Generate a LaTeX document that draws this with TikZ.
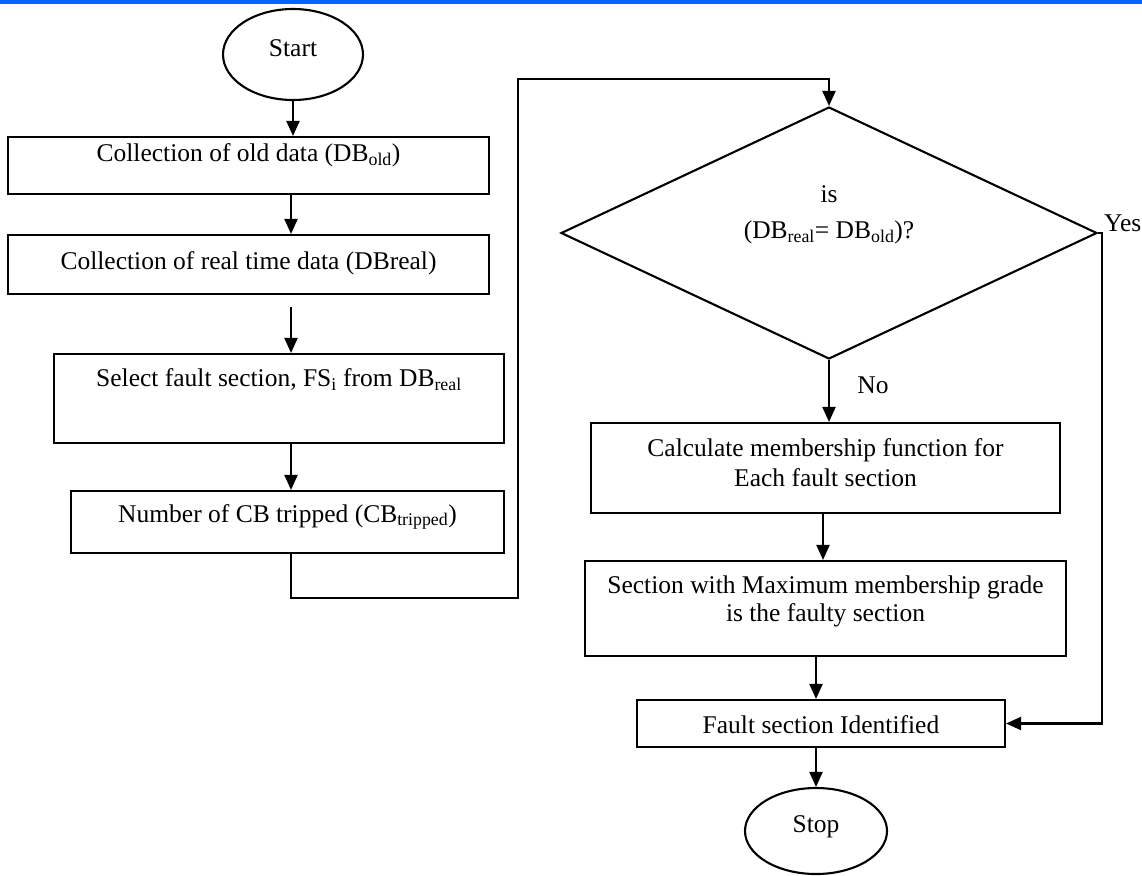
\documentclass[tikz,border=0pt]{standalone}
\usepackage{fontspec}
\setmainfont{Liberation Serif}
\usetikzlibrary{shapes.geometric,arrows.meta,calc}
\definecolor{topblue}{RGB}{0,102,255}
\begin{document}
\begin{tikzpicture}[x=1pt,y=-1pt,
  every node/.style={font=\fontsize{25.5}{30}\selectfont},
  box/.style={draw, line width=2.1pt, rectangle, inner sep=0pt},
  oval/.style={draw, line width=2.1pt, ellipse, inner sep=0pt},
  rhomb/.style={draw, line width=2.1pt, diamond, inner sep=0pt},
  lbl/.style={inner sep=0pt, align=center},
  arr/.style={line width=2.1pt, -{Triangle[length=15pt,width=13pt]}},
  ln/.style={line width=2.1pt}]
\useasboundingbox (0,0) rectangle (1142,875);
\fill[topblue] (0,0) rectangle (1142,4);

% left column
\node[oval, minimum width=140pt, minimum height=91pt,
  label={[lbl,yshift=6pt]center:Start}] (s) at (293,54.5) {};
\node[box, minimum width=481pt, minimum height=57pt,
  label={[lbl,yshift=10.5pt]center:{Collection of old data (DB\textsubscript{old})}}] (b1) at (248.5,165.5) {};
\node[box, minimum width=481pt, minimum height=59pt,
  label={[lbl,yshift=1.5pt]center:{Collection of real time data (DBreal)}}] (b2) at (248.5,264.5) {};
\node[box, minimum width=450pt, minimum height=89pt,
  label={[lbl,yshift=18.5pt]center:{Select fault section, FS\textsubscript{i} from DB\textsubscript{real}}}] (b3) at (279,398.5) {};
\node[box, minimum width=433pt, minimum height=62pt,
  label={[lbl,yshift=5pt]center:{Number of CB tripped (CB\textsubscript{tripped})}}] (b4) at (287.5,522) {};

% right column
\node[rhomb, minimum width=536pt, minimum height=252pt,
  label={[lbl,yshift=18pt,font=\fontsize{25.5}{36}\selectfont]center:{is\\(DB\textsubscript{real}= DB\textsubscript{old})?}}] (d) at (829,233) {};
\node[box, minimum width=469pt, minimum height=90pt,
  label={[lbl,yshift=5pt,font=\fontsize{25.5}{30}\selectfont]center:{Calculate membership function for\\Each fault section}}] (b5) at (825.5,468) {};
\node[box, minimum width=481pt, minimum height=95pt,
  label={[lbl,yshift=7.5pt,font=\fontsize{25.5}{28}\selectfont]center:{Section with Maximum membership grade\\is the faulty section}}] (b6) at (825.5,608.5) {};
\node[box, minimum width=368pt, minimum height=47pt,
  label={[lbl,yshift=-1.5pt]center:{Fault section Identified}}] (b7) at (821,723.5) {};
\node[oval, minimum width=142pt, minimum height=86pt,
  label={[lbl,yshift=4pt]center:Stop}] (st) at (816,831) {};

\node[lbl, anchor=west] (yes) at (1104,223) {Yes};
\node[lbl] (no) at (873,385) {No};

% connectors
\coordinate (ax) at (291,0);
\coordinate (bx) at (823,0);
\coordinate (cx) at (816,0);
\coordinate (lp1) at (518,598);
\coordinate (lp2) at (518,79);
\draw[arr] (s.south) -- (s.south |- b1.north);
\draw[arr] (b1.south -| ax) -- (b2.north -| ax);
\draw[arr] ($(b2.south -| ax)+(0,12)$) -- (b3.north -| ax);
\draw[arr] (b3.south -| ax) -- (b4.north -| ax);
\draw[arr] (b4.south -| ax) |- (lp1) -- (lp2) -| (d.north);
\draw[arr] (d.south) -- (d.south |- b5.north);
\draw[arr] (b5.south -| bx) -- (b6.north -| bx);
\draw[arr] (b6.south -| cx) -- (b7.north -| cx);
\draw[arr] (b7.south -| st.north) -- (st.north);
\draw[arr] (d.east) -- ++(4,0) |- (b7.east);
\end{tikzpicture}
\end{document}
